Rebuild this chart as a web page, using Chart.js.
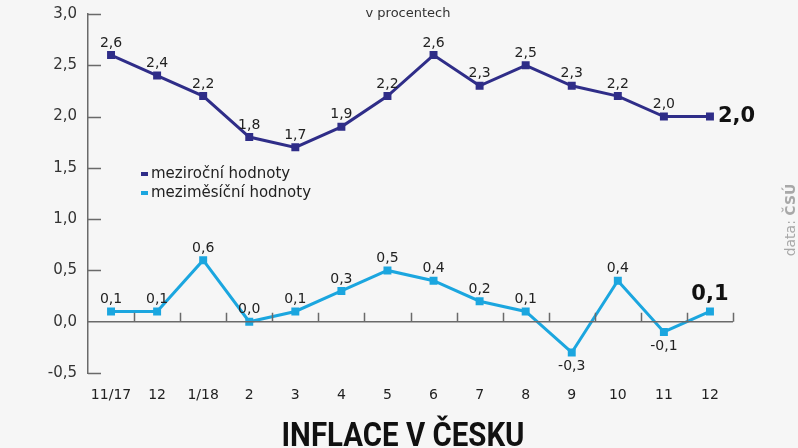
<!DOCTYPE html>
<html>
<head>
<meta charset="utf-8">
<script src="https://cdn.jsdelivr.net/npm/chart.js@4"></script>
<style>
  html, body { margin: 0; padding: 0; background: #f6f6f6; }
  #wrap { width: 798px; height: 448px; position: relative; }
</style>
</head>
<body>
<div id="wrap"><canvas id="inflaceChart" width="798" height="448"></canvas></div>
<script>
// Data
const months = ["11/17", "12", "1/18", "2", "3", "4", "5", "6", "7", "8", "9", "10", "11", "12"];
const yearOnYear = [2.6, 2.4, 2.2, 1.8, 1.7, 1.9, 2.2, 2.6, 2.3, 2.5, 2.3, 2.2, 2.0, 2.0];
const monthOnMonth = [0.1, 0.1, 0.6, 0.0, 0.1, 0.3, 0.5, 0.4, 0.2, 0.1, -0.3, 0.4, -0.1, 0.1];
const seriesNames = ["meziroční hodnoty", "meziměsíční hodnoty"];

const navy = "#2f2d88";
const lightBlue = "#1ba6df";
const axisGray = "#6a6a6a";
const labelFont = "'DejaVu Sans', sans-serif";

const fmt = v => v.toFixed(1).replace(".", ",");

// Draws axis lines, ticks, point labels, legend and the texts around the chart
const decorPlugin = {
    id: "decor",
    afterDatasetsDraw(chart) {
        const ctx = chart.ctx;
        const area = chart.chartArea;
        const y = chart.scales.y;
        const y0 = y.getPixelForValue(0);
        const step = (area.right - area.left) / months.length;

        ctx.save();
        ctx.strokeStyle = axisGray;
        ctx.lineWidth = 1.5;

        // zero line with category ticks
        ctx.beginPath();
        ctx.moveTo(area.left, y0);
        ctx.lineTo(area.right, y0);
        for (let i = 1; i <= months.length; i++) {
            const tx = Math.round(area.left + i * step) + 0.5;
            ctx.moveTo(tx, y0);
            ctx.lineTo(tx, y0 - 9);
        }
        // inner ticks on y axis
        [3, 2.5, 2, 1.5, 1, 0.5, -0.5].forEach(v => {
            const ty = Math.round(y.getPixelForValue(v)) + 0.5;
            ctx.moveTo(area.left, ty);
            ctx.lineTo(area.left + 13, ty);
        });
        ctx.stroke();

        // point labels
        ctx.textAlign = "center";
        ctx.textBaseline = "middle";
        [yearOnYear, monthOnMonth].forEach((values, di) => {
            const meta = chart.getDatasetMeta(di);
            meta.data.forEach((pt, i) => {
                const v = values[i];
                const last = i === values.length - 1;
                if (last) {
                    ctx.font = "bold 21px " + labelFont;
                    ctx.fillStyle = "#111";
                    if (di === 0) {
                        ctx.textAlign = "left";
                        ctx.fillText(fmt(v), pt.x + 8, pt.y);
                        ctx.textAlign = "center";
                    } else {
                        ctx.fillText(fmt(v), pt.x, pt.y - 17);
                    }
                    return;
                }
                ctx.font = "14px " + labelFont;
                ctx.fillStyle = "#222";
                const dy = v < 0 ? 14 : -12;
                ctx.fillText(fmt(v), pt.x, pt.y + dy);
            });
        });

        // legend
        ctx.textAlign = "left";
        ctx.font = "15px " + labelFont;
        [navy, lightBlue].forEach((c, i) => {
            const ly = 174 + i * 19;
            ctx.fillStyle = c;
            ctx.fillRect(141, ly - 2, 7, 4);
            ctx.fillStyle = "#222";
            ctx.fillText(seriesNames[i], 151, ly);
        });

        // unit note
        ctx.textAlign = "center";
        ctx.font = "13px " + labelFont;
        ctx.fillStyle = "#333";
        ctx.fillText("v procentech", 408, 14);

        // source, rotated
        ctx.save();
        ctx.translate(791, 220);
        ctx.rotate(-Math.PI / 2);
        ctx.fillStyle = "#a8a8a8";
        ctx.textAlign = "left";
        ctx.font = "14px " + labelFont;
        const w1 = ctx.measureText("data: ").width;
        ctx.font = "bold 14px " + labelFont;
        const w2 = ctx.measureText("ČSÚ").width;
        const sx = -(w1 + w2) / 2;
        ctx.font = "14px " + labelFont;
        ctx.fillText("data: ", sx, 0);
        ctx.font = "bold 14px " + labelFont;
        ctx.fillText("ČSÚ", sx + w1, 0);
        ctx.restore();

        // title, squeezed to the width seen in the picture
        ctx.save();
        ctx.font = "bold 33px 'Liberation Sans Narrow', 'Roboto', sans-serif";
        ctx.fillStyle = "#111";
        ctx.textBaseline = "alphabetic";
        const tw = ctx.measureText("INFLACE V ČESKU").width;
        ctx.translate(403, 446);
        ctx.scale(243 / tw, 1);
        ctx.textAlign = "center";
        ctx.fillText("INFLACE V ČESKU", 0, 0);
        ctx.restore();

        ctx.restore();
    }
};

function initializeChart() {
    const ctx = document.getElementById("inflaceChart").getContext("2d");
    new Chart(ctx, {
        type: "line",
        data: {
            labels: months,
            datasets: [{
                label: seriesNames[0],
                data: yearOnYear,
                borderColor: navy,
                backgroundColor: navy,
                borderWidth: 3,
                pointStyle: "rect",
                pointRadius: 3.5,
                tension: 0
            }, {
                label: seriesNames[1],
                data: monthOnMonth,
                borderColor: lightBlue,
                backgroundColor: lightBlue,
                borderWidth: 3,
                pointStyle: "rect",
                pointRadius: 3.5,
                tension: 0
            }]
        },
        options: {
            responsive: false,
            animation: false,
            devicePixelRatio: 1,
            layout: { padding: { left: 0, right: 65, top: 14, bottom: 0 } },
            plugins: { legend: { display: false }, tooltip: { enabled: false } },
            scales: {
                x: {
                    offset: true,
                    grid: { display: false, drawTicks: false },
                    border: { display: false },
                    ticks: {
                        color: "#222",
                        font: { family: labelFont, size: 14 },
                        padding: 14,
                        maxRotation: 0,
                        autoSkip: false
                    },
                    afterFit(scale) { scale.height = 75; }
                },
                y: {
                    min: -0.5,
                    max: 3.0,
                    grid: { display: false, drawTicks: false },
                    border: { display: true, color: axisGray, width: 1.5 },
                    ticks: {
                        stepSize: 0.5,
                        color: "#333",
                        font: { family: labelFont, size: 15 },
                        padding: 11,
                        callback: v => fmt(v)
                    },
                    afterFit(scale) {
                        scale.width = 88;
                        scale.paddingTop = 0;
                        scale.paddingBottom = 0;
                    }
                }
            }
        },
        plugins: [decorPlugin]
    });
}

document.addEventListener("DOMContentLoaded", initializeChart);
</script>
</body>
</html>
